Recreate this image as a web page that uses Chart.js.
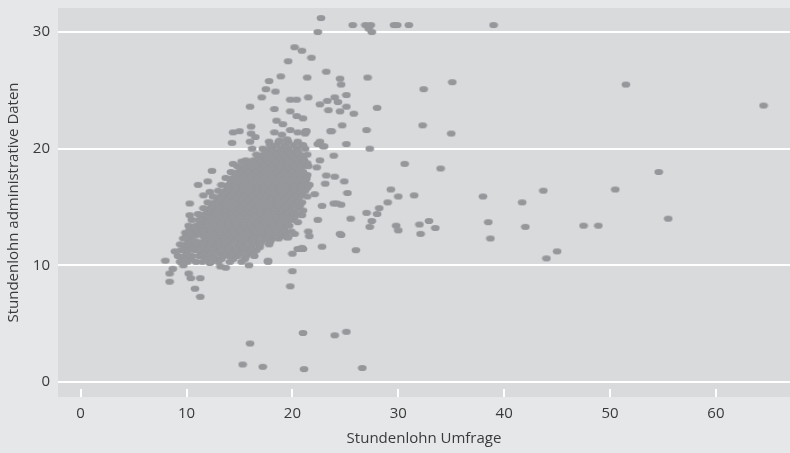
<!DOCTYPE html>
<html>
<head>
<meta charset="utf-8">
<script src="https://cdn.jsdelivr.net/npm/chart.js@4"></script>
<style>
  html, body { margin: 0; padding: 0; background: #e6e7e8; }
</style>
</head>
<body>
<canvas id="lohn-scatter" width="790" height="453"></canvas>
<script>
// Ticks der beiden Achsen
var xTicks = [0, 10, 20, 30, 40, 50, 60];
var yTicks = [0, 10, 20, 30];

// dichte Punktwolke: je Zeile ein Wert "administrative Daten" und die Umfrage-Werte dazu
var wolkeY = [10.3, 10.55, 10.8, 11.05, 11.3, 11.55, 11.8, 12.05, 12.3, 12.55, 12.8, 13.1,
              13.4, 13.65, 13.9, 14.15, 14.4, 14.65, 14.9, 15.15, 15.4, 15.65, 15.9, 16.15,
              16.4, 16.65, 16.9, 17.2, 17.5, 17.75, 18.0, 18.25, 18.5, 18.75, 19.0, 19.25,
              19.5, 19.75, 20.0, 20.3, 20.6];
var wolkeX = [
	[9.4, 10.1, 10.9, 11.5, 12.3, 13.0, 14.1, 15.2],
	[9.6, 10.4, 11.8, 12.6, 13.3, 14.4, 15.5],
	[9.2, 9.9, 10.5, 11.2, 11.9, 12.6, 13.4, 14.0, 14.8, 15.6, 16.4],
	[10.0, 11.4, 12.0, 12.8, 13.5, 14.2, 14.9, 15.7, 16.3],
	[9.5, 10.2, 10.8, 11.6, 12.2, 12.9, 13.7, 14.3, 15.1, 15.8, 16.6],
	[9.8, 10.5, 11.1, 11.9, 12.5, 13.3, 14.0, 14.7, 15.4, 16.1, 16.9],
	[9.4, 10.0, 10.7, 11.3, 12.0, 12.7, 13.3, 14.0, 14.8, 15.4, 16.2, 16.9, 17.8],
	[10.2, 10.9, 11.6, 12.3, 13.0, 13.6, 14.2, 15.0, 15.7, 16.4, 17.1, 17.9],
	[9.7, 10.4, 11.8, 12.4, 13.1, 13.8, 14.5, 15.2, 15.9, 16.5, 17.3, 18.1, 18.7],
	[10.0, 10.8, 11.5, 12.1, 12.8, 13.5, 14.2, 14.9, 15.6, 16.3, 17.0, 17.7, 18.4, 19.1],
	[9.9, 10.6, 11.2, 11.9, 12.6, 13.3, 14.0, 14.6, 15.3, 16.0, 16.7, 17.4, 18.1, 18.8, 19.4],
	[10.3, 10.9, 11.6, 12.3, 13.0, 13.7, 14.4, 15.1, 15.8, 16.4, 17.1, 17.8, 18.5, 19.2],
	[10.2, 10.9, 11.5, 12.2, 12.9, 13.6, 14.3, 14.9, 15.6, 16.3, 17.0, 17.7, 18.4, 19.1, 19.7],
	[11.3, 11.9, 12.6, 13.3, 14.0, 14.6, 15.3, 16.0, 16.7, 17.4, 18.1, 18.8, 19.5],
	[10.5, 11.2, 11.9, 12.5, 13.2, 13.9, 14.6, 15.3, 16.0, 16.6, 17.3, 18.0, 18.7, 19.4, 20.0],
	[11.5, 12.2, 12.9, 13.5, 14.2, 14.9, 15.6, 16.3, 16.9, 17.6, 18.3, 19.0, 19.7, 20.2],
	[11.1, 11.8, 12.4, 13.1, 13.8, 14.5, 15.1, 15.8, 16.5, 17.2, 17.9, 18.5, 19.2, 19.9, 20.4],
	[12.0, 12.7, 13.4, 14.1, 14.8, 15.4, 16.1, 16.8, 17.5, 18.2, 18.8, 19.5, 20.1],
	[11.6, 12.3, 12.9, 13.6, 14.3, 15.0, 15.7, 16.3, 17.0, 17.7, 18.4, 19.0, 19.7, 20.6],
	[12.4, 13.1, 13.8, 14.5, 15.2, 15.9, 16.6, 17.3, 17.9, 18.6, 19.3, 20.0, 20.7],
	[12.0, 12.7, 13.4, 14.1, 14.7, 15.4, 16.1, 16.8, 17.5, 18.1, 18.8, 19.5, 20.2, 20.9],
	[13.0, 13.7, 14.4, 15.1, 15.7, 16.4, 17.1, 17.8, 18.5, 19.1, 19.8, 20.5],
	[12.5, 13.2, 13.9, 14.6, 15.2, 15.9, 16.6, 17.3, 18.0, 18.6, 19.3, 20.0, 20.7, 21.4],
	[13.5, 14.1, 14.8, 15.5, 16.2, 16.9, 17.5, 18.2, 18.9, 19.6, 20.3, 20.9],
	[13.0, 13.7, 14.4, 15.0, 15.7, 16.4, 17.1, 17.8, 18.4, 19.1, 19.8, 20.5, 21.2],
	[13.9, 14.6, 15.3, 16.0, 16.7, 17.3, 18.0, 18.7, 19.4, 20.1, 20.8, 21.4],
	[13.3, 14.0, 14.7, 15.4, 16.1, 16.7, 17.4, 18.1, 18.8, 19.5, 20.2, 20.9, 21.6],
	[14.2, 14.9, 15.6, 16.3, 17.0, 17.7, 18.4, 19.1, 19.8, 20.5, 21.2],
	[13.7, 14.4, 15.1, 15.8, 16.5, 17.2, 17.9, 18.5, 19.2, 19.9, 20.6, 21.3],
	[14.7, 15.4, 16.0, 16.7, 17.4, 18.1, 18.8, 19.5, 20.1, 20.8, 21.4],
	[14.2, 14.9, 15.6, 16.3, 16.9, 17.6, 18.3, 19.0, 19.7, 20.4, 21.0],
	[15.2, 15.9, 16.6, 17.3, 17.9, 18.6, 19.3, 20.0, 20.7],
	[14.8, 15.5, 16.2, 16.9, 17.6, 18.2, 18.9, 19.6, 20.3, 21.0, 21.5],
	[15.9, 16.6, 17.3, 18.0, 18.7, 19.4, 20.1, 20.8, 21.4],
	[15.6, 16.3, 17.0, 17.7, 18.4, 19.1, 19.7, 20.4, 21.1],
	[16.8, 17.5, 18.2, 18.9, 19.6, 20.3, 21.0],
	[16.6, 17.3, 18.0, 18.7, 19.3, 20.0, 20.7, 21.4],
	[17.7, 18.4, 19.1, 19.8, 20.5],
	[17.2, 18.1, 18.9, 19.6, 20.4, 21.2],
	[18.5, 19.3, 20.1, 20.9],
	[17.8, 18.7, 19.6, 20.5]
];

// einzelne Punkte ausserhalb der Wolke: [Umfrage, administrative Daten]
var einzelpunkte = [
	[22.7, 31.2], [25.7, 30.6], [26.9, 30.6], [27.4, 30.6], [27.2, 30.3], [27.5, 30.0],
	[29.6, 30.6], [29.9, 30.6], [31.0, 30.6], [39.0, 30.6], [22.4, 30.0],
	[20.2, 28.7], [20.9, 28.4], [21.8, 27.8], [19.6, 27.5], [23.2, 26.6], [21.4, 26.1],
	[18.9, 26.2], [17.8, 25.8], [24.5, 26.0], [24.6, 25.5], [27.1, 26.1], [35.1, 25.7],
	[51.5, 25.5], [64.5, 23.7], [32.4, 25.1], [17.5, 25.1], [18.4, 24.9], [17.1, 24.4],
	[19.8, 24.2], [20.4, 24.2], [21.5, 24.4], [22.6, 23.8], [23.3, 24.1], [24.0, 24.4],
	[24.3, 24.0], [25.1, 24.6], [23.4, 23.3], [24.5, 23.2], [25.1, 23.6], [25.8, 23.0],
	[28.0, 23.5], [16.0, 23.6], [18.3, 23.4], [19.8, 23.2], [20.4, 22.8], [21.0, 22.6],
	[18.5, 22.4], [16.1, 21.9], [19.1, 22.1], [32.3, 22.0], [24.7, 22.0], [27.0, 21.6],
	[23.7, 21.5], [21.3, 21.5], [21.2, 21.3], [35.0, 21.3], [14.4, 21.4], [15.0, 21.5],
	[14.3, 20.5], [16.1, 21.3], [16.5, 21.0], [18.3, 21.4], [19.0, 21.2], [19.8, 21.6],
	[20.5, 21.4], [21.3, 21.5], [23.6, 21.5], [16.0, 20.6], [16.2, 20.0], [17.4, 19.9],
	[17.9, 20.3], [18.8, 20.7], [19.5, 20.8], [21.0, 20.3], [22.4, 20.4], [22.9, 20.2],
	[22.6, 20.6], [23.0, 20.2], [25.1, 20.4], [27.3, 20.0], [23.9, 19.4], [22.6, 19.0],
	[22.3, 18.4], [30.6, 18.7], [34.0, 18.3], [54.6, 18.0], [12.4, 18.1], [14.4, 18.7],
	[15.2, 18.9], [23.2, 17.7], [24.0, 17.6], [24.9, 17.2], [23.1, 17.0], [25.2, 16.2],
	[29.3, 16.5], [30.0, 15.9], [31.5, 16.0], [38.0, 15.9], [43.7, 16.4], [50.5, 16.5],
	[41.7, 15.4], [23.9, 15.3], [24.6, 15.2], [22.8, 15.1], [24.2, 15.3], [29.0, 15.4],
	[28.2, 14.9], [28.0, 14.4], [27.0, 14.5], [25.5, 14.0], [27.5, 13.8], [27.3, 13.3],
	[29.8, 13.4], [30.0, 13.0], [32.0, 13.5], [32.9, 13.8], [33.5, 13.2], [32.1, 12.7],
	[38.5, 13.7], [38.7, 12.3], [42.0, 13.3], [47.5, 13.4], [48.9, 13.4], [55.5, 14.0],
	[24.6, 12.6], [26.0, 11.3], [45.0, 11.2], [44.0, 10.6], [22.4, 13.9], [22.1, 16.1],
	[21.3, 17.4], [21.5, 16.9], [21.0, 14.7], [20.9, 14.3], [19.6, 14.0], [20.5, 13.7],
	[19.9, 12.9], [19.5, 12.4], [21.5, 12.9], [21.6, 12.5], [24.5, 12.7], [22.8, 11.6],
	[20.9, 11.5], [20.5, 11.4], [20.0, 11.0], [16.9, 11.9], [15.5, 11.0], [17.7, 10.4],
	[17.0, 12.9], [17.6, 12.4], [19.6, 12.4], [20.2, 12.7], [20.7, 11.4], [21.0, 11.4],
	[11.1, 16.9], [12.0, 17.2], [11.6, 16.0], [12.2, 16.3], [13.4, 16.2], [10.3, 15.3],
	[10.3, 14.3],
	[8.0, 10.4], [8.4, 9.3], [8.7, 9.7], [8.4, 8.6], [10.2, 9.3], [10.4, 8.9], [11.3, 8.9],
	[10.8, 8.0], [11.3, 7.3], [8.9, 11.2], [9.7, 10.0], [12.2, 10.2], [13.2, 9.9],
	[13.7, 9.8], [15.9, 10.0], [17.7, 10.3], [20.0, 9.5], [19.8, 8.2],
	[21.0, 4.2], [24.0, 4.0], [25.1, 4.3], [16.0, 3.3], [15.3, 1.5], [17.2, 1.3],
	[21.1, 1.1], [26.6, 1.2]
];

var punktFarbe = '#96979a';
var schrift = { family: "'Open Sans', 'Noto Sans', sans-serif", size: 15 };
var textFarbe = '#3a3a3a';

// Punkte sammeln
var punkte = [];
wolkeY.forEach(function(y, i) {
	wolkeX[i].forEach(function(x) { punkte.push({ x: x, y: y }); });
});
einzelpunkte.forEach(function(p) { punkte.push({ x: p[0], y: p[1] }); });

// flache Ellipse als Punktsymbol
var ellipse = document.createElement('canvas');
ellipse.width = 10;
ellipse.height = 8;
var ectx = ellipse.getContext('2d');
ectx.fillStyle = punktFarbe;
ectx.beginPath();
ectx.ellipse(5, 4, 4.4, 3.1, 0, 0, Math.PI * 2);
ectx.fill();

// Hintergruende und weisse Tickstriche unten im Plotbereich
var hintergrund = {
	id: 'hintergrund',
	beforeDraw: function(chart) {
		var ctx = chart.ctx, a = chart.chartArea;
		ctx.save();
		ctx.fillStyle = '#e6e7e8';
		ctx.fillRect(0, 0, chart.width, chart.height);
		ctx.fillStyle = '#d9dadc';
		ctx.fillRect(a.left, a.top, a.right - a.left, a.bottom - a.top);
		ctx.restore();
	},
	beforeDatasetsDraw: function(chart) {
		var ctx = chart.ctx, a = chart.chartArea, sx = chart.scales.x;
		ctx.save();
		ctx.strokeStyle = '#ffffff';
		ctx.lineWidth = 2;
		xTicks.forEach(function(v) {
			var px = Math.round(sx.getPixelForValue(v));
			ctx.beginPath();
			ctx.moveTo(px, a.bottom - 8);
			ctx.lineTo(px, a.bottom);
			ctx.stroke();
		});
		ctx.restore();
	}
};

// feste Achsenmasse, keine automatische Randpolsterung
function ohnePolster(s) {
	s.paddingTop = 0; s.paddingBottom = 0; s.paddingLeft = 0; s.paddingRight = 0;
}

var cfg = {
	type: 'scatter',
	data: {
		datasets: [{
			label: 'Stundenlohn',
			data: punkte,
			pointStyle: ellipse,
			pointRadius: 4,
			backgroundColor: punktFarbe,
			borderWidth: 0
		}]
	},
	options: {
		responsive: false,
		animation: false,
		layout: { autoPadding: false, padding: { top: 8, right: 0, left: 0, bottom: 0 } },
		plugins: {
			legend: { display: false },
			tooltip: { enabled: false }
		},
		scales: {
			x: {
				type: 'linear',
				min: -2.14,
				max: 67,
				afterBuildTicks: function(s) { s.ticks = xTicks.map(function(v) { return { value: v }; }); },
				afterFit: function(s) { s.height = 56; ohnePolster(s); },
				grid: { display: false, drawTicks: false },
				border: { display: false },
				ticks: { font: schrift, color: textFarbe, padding: 8, maxRotation: 0 },
				title: { display: true, text: 'Stundenlohn Umfrage', font: schrift, color: textFarbe,
				         padding: { top: 0, bottom: 5 } }
			},
			y: {
				type: 'linear',
				min: -1.29,
				max: 32.06,
				afterBuildTicks: function(s) { s.ticks = yTicks.map(function(v) { return { value: v }; }); },
				afterFit: function(s) { s.width = 58; ohnePolster(s); },
				grid: { color: '#ffffff', lineWidth: 2, drawTicks: false },
				border: { display: false },
				ticks: { font: schrift, color: textFarbe, padding: 8 },
				title: { display: true, text: 'Stundenlohn administrative Daten', font: schrift, color: textFarbe,
				         padding: { top: 5, bottom: 0 } }
			}
		}
	},
	plugins: [hintergrund]
};

new Chart(document.getElementById('lohn-scatter'), cfg);
</script>
</body>
</html>
